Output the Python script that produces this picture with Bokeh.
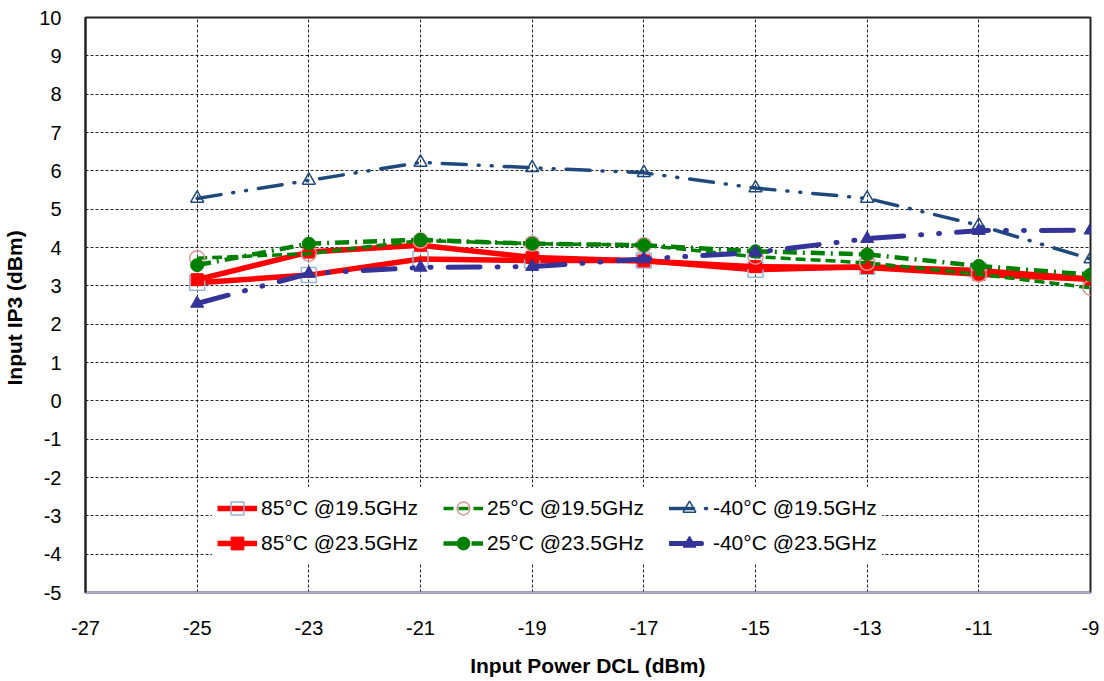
from bokeh.plotting import figure
from bokeh.models import Range1d, FixedTicker, Legend, LegendItem, PrintfTickFormatter
from bokeh.embed import file_html
from bokeh.resources import INLINE

# ---- data ----
x_power = [-25, -23, -21, -19, -17, -15, -13, -11, -9]
t85_195 = [3.08, 3.28, 3.70, 3.66, 3.66, 3.42, 3.50, 3.40, 3.18]
t85_235 = [3.16, 3.88, 4.06, 3.74, 3.65, 3.50, 3.48, 3.30, 3.17]
t25_195 = [3.72, 3.84, 4.18, 4.10, 4.06, 3.76, 3.60, 3.30, 2.95]
t25_235 = [3.54, 4.10, 4.20, 4.10, 4.06, 3.90, 3.82, 3.52, 3.29]
tm40_195 = [5.28, 5.75, 6.22, 6.08, 5.95, 5.55, 5.28, 4.58, 3.70]
tm40_235 = [2.54, 3.32, 3.48, 3.50, 3.70, 3.87, 4.23, 4.44, 4.45]

labels = ["85°C @19.5GHz", "25°C @19.5GHz", "-40°C @19.5GHz",
          "85°C @23.5GHz", "25°C @23.5GHz", "-40°C @23.5GHz"]
x_ticks = [-27, -25, -23, -21, -19, -17, -15, -13, -11, -9]
y_ticks = [-5, -4, -3, -2, -1, 0, 1, 2, 3, 4, 5, 6, 7, 8, 9, 10]

FONT = "Liberation Sans"

p = figure(frame_width=1005, frame_height=575,
           x_range=Range1d(-27, -9), y_range=Range1d(-5, 10),
           output_backend="svg", toolbar_location=None,
           min_border_left=73, min_border_top=17, min_border_right=12, min_border_bottom=80)
p.background_fill_color = "white"
p.border_fill_color = "white"
p.outline_line_color = "#222222"
p.outline_line_width = 2

# grid
for g in (p.xgrid, p.ygrid):
    g.grid_line_color = "black"
    g.grid_line_dash = "3 2"
    g.grid_line_width = 1
    g.grid_line_alpha = 0.85

p.xaxis.ticker = FixedTicker(ticks=x_ticks)
p.yaxis.ticker = FixedTicker(ticks=y_ticks)

for ax in (p.xaxis, p.yaxis):
    ax.formatter = PrintfTickFormatter(format="%d")
    ax.major_tick_line_color = None
    ax.minor_tick_line_color = None
    ax.major_label_text_font = FONT
    ax.major_label_text_font_size = "20px"
    ax.major_label_text_color = "black"
    ax.axis_label_text_font = FONT
    ax.axis_label_text_font_size = "21px"
    ax.axis_label_text_font_style = "bold"
    ax.axis_label_text_color = "black"

p.xaxis.axis_label = "Input Power DCL (dBm)"
p.yaxis.axis_label = "Input IP3  (dBm)"
p.xaxis.axis_line_color = "#B7A8D0"
p.xaxis.axis_line_width = 2
p.yaxis.axis_line_color = "#222222"
p.yaxis.axis_line_width = 2
p.xaxis.major_label_standoff = 22
p.xaxis.axis_label_standoff = 16
p.yaxis.major_label_standoff = 18
p.yaxis.axis_label_standoff = 10

# series
RED = "#FF0000"
GREEN = "#008000"
DBLUE = "#1F497D"
INDIGO = "#333399"

l1 = p.line(x_power, t85_195, line_color=RED, line_width=5.5)
m1 = p.scatter(x_power, t85_195, marker="square", size=15, fill_alpha=0,
               line_color="#95B3D7", line_width=1.5)

l4 = p.line(x_power, t85_235, line_color=RED, line_width=5.5)
m4 = p.scatter(x_power, t85_235, marker="square", size=12, fill_color=RED, line_color=RED)

l2 = p.line(x_power, t25_195, line_color=GREEN, line_width=3.5, line_dash="10 5")
m2 = p.scatter(x_power, t25_195, marker="circle", size=15, fill_alpha=0,
               line_color="#D99694", line_width=1.5)

l5 = p.line(x_power, t25_235, line_color=GREEN, line_width=4.5, line_dash="14 6 2 6")
m5 = p.scatter(x_power, t25_235, marker="circle", size=13, fill_color=GREEN, line_color=GREEN)

l3 = p.line(x_power, tm40_195, line_color=DBLUE, line_width=3.5, line_dash="24 12 1 12 1 12",
            line_cap="round")
m3 = p.scatter(x_power, tm40_195, marker="triangle", size=13, fill_alpha=0,
               line_color=DBLUE, line_width=1.5)

l6 = p.line(x_power, tm40_235, line_color=INDIGO, line_width=5, line_dash="32 17 1 17 1 17",
            line_cap="round")
m6 = p.scatter(x_power, tm40_235, marker="triangle", size=13, fill_color=INDIGO, line_color=INDIGO)


def make_legend(items, loc):
    lg = Legend(items=items, location=loc, orientation="horizontal")
    lg.label_text_font = FONT
    lg.label_text_font_size = "21px"
    lg.label_text_color = "black"
    lg.glyph_width = 40
    lg.glyph_height = 32
    lg.label_standoff = 4
    lg.spacing = 25
    lg.padding = 5
    lg.margin = 0
    lg.background_fill_color = "white"
    lg.background_fill_alpha = 1
    lg.border_line_alpha = 0
    return lg


row1 = [
    LegendItem(label=labels[0], renderers=[l1, m1]),
    LegendItem(label=labels[1], renderers=[l2, m2]),
    LegendItem(label=labels[2], renderers=[l3, m3]),
]
row2 = [
    LegendItem(label=labels[3], renderers=[l4, m4]),
    LegendItem(label=labels[4], renderers=[l5, m5]),
    LegendItem(label=labels[5], renderers=[l6, m6]),
]
p.add_layout(make_legend(row1, (127, 63)), "center")
p.add_layout(make_legend(row2, (127, 28)), "center")

open("out.html", "w").write(file_html(p, INLINE))
